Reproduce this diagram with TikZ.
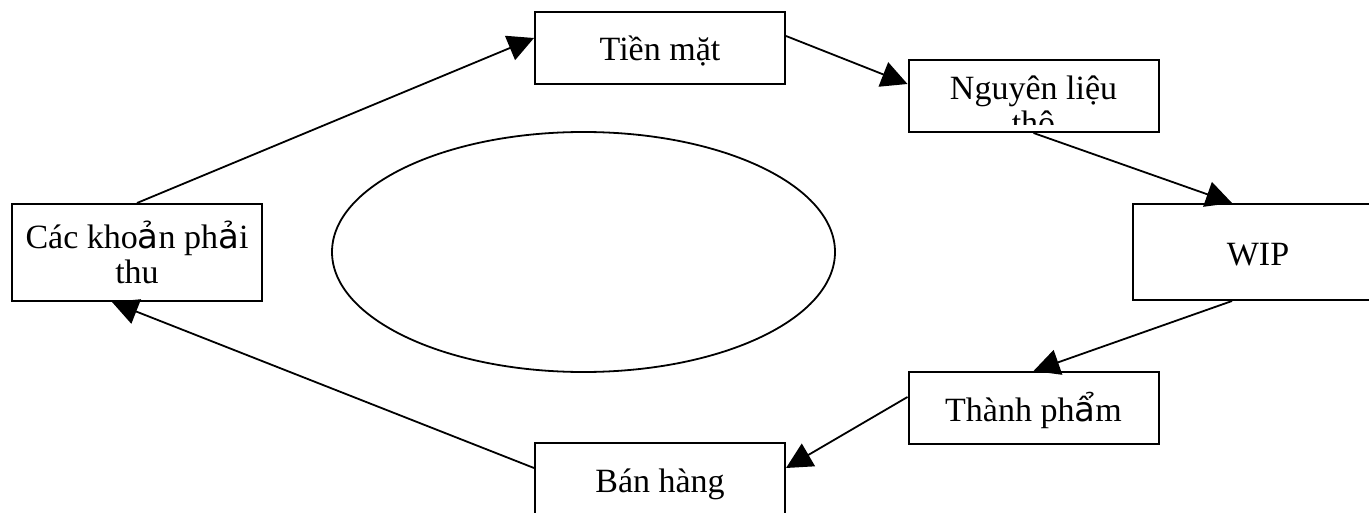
\documentclass[tikz,border=0pt]{standalone}
\usepackage{fontspec}
\setmainfont{Liberation Serif}
\newfontfamily\fallbackfont{DejaVu Sans}
\usetikzlibrary{positioning,arrows.meta}
\tikzset{
  box/.style={draw,line width=1pt,inner sep=0pt,minimum width=125pt,minimum height=36pt,
    align=center,font=\fontsize{17}{17.5}\selectfont},
  oneline/.style={text height=16pt,text depth=3pt},
  boxtext/.style={anchor=base,inner sep=0pt,font=\fontsize{17}{17.5}\selectfont},
  flow/.style={-{Triangle[length=13pt,width=13pt]},line width=0.9pt}
}

\begin{document}
\begin{tikzpicture}[x=0.5pt,y=-0.5pt]
		\useasboundingbox (0,0) rectangle (1369,513);

		\node[box,oneline] (tm) at (660,48) {Tiền mặt};
		\node[box] (nl) at (1033.5,96) {};
		\node[box,oneline,minimum height=48pt] (wip) at (1258,252) {WIP};
		\node[box,oneline] (tp) at (1033.5,408) {Thành ph{\fallbackfont ẩ}m};
		\node[box,oneline] (bh) at (660,479) {Bán hàng};
		\node[box,minimum height=48.5pt] (cac) at (137,252.5) {Các kho{\fallbackfont ả}n ph{\fallbackfont ả}i\\thu};

		\begin{scope}
			\clip ([shift={(2,2)}]nl.north west) rectangle ([shift={(-2,-8)}]nl.south east);
			\node[boxtext] (nlone) at ([yshift=-2pt]nl.center) {Nguyên liệu};
			\node[boxtext] (nltwo) at ([yshift=-19.5pt]nl.center) {thô};
		\end{scope}

		\draw[line width=0.9pt] (583.5,252) ellipse [x radius=251.5,y radius=120];

		\draw[flow] (cac.north) -- ([yshift=5pt]tm.west);
		\draw[flow] ([yshift=6pt]tm.east) -- ([yshift=6pt]nl.west);
		\draw[flow] (nl.south) -- ([xshift=-13pt]wip.north);
		\draw[flow] ([xshift=-13pt]wip.south) -- (tp.north);
		\draw[flow] ([yshift=5.5pt]tp.west) -- ([yshift=5.5pt]bh.east);
		\draw[flow] ([yshift=5.5pt]bh.west) -- ([xshift=-12.5pt]cac.south);
	\end{tikzpicture}
\end{document}
